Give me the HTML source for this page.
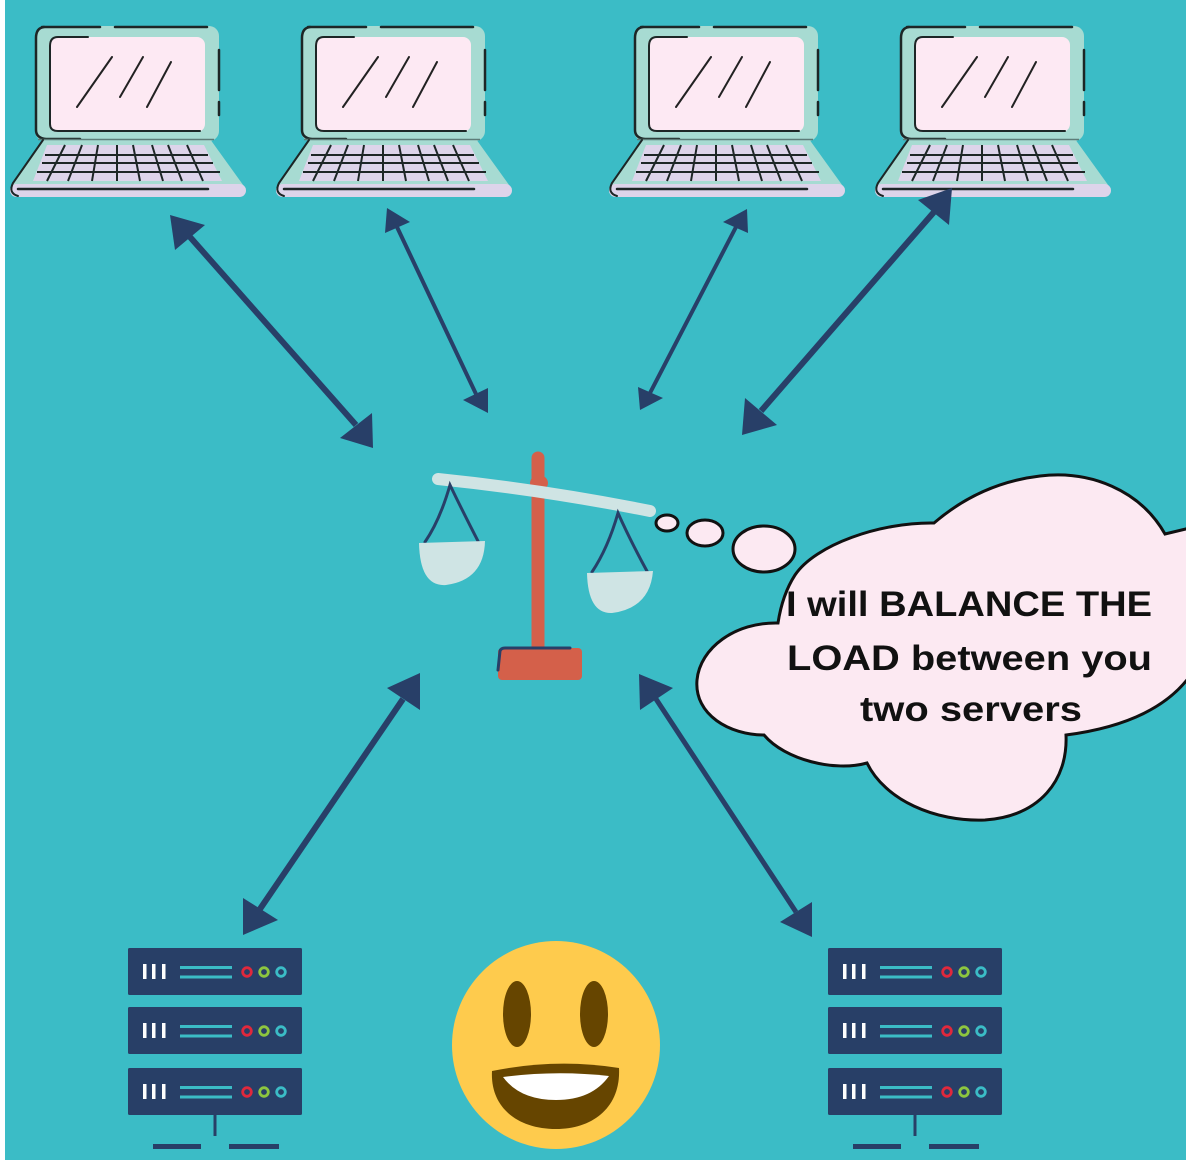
<!DOCTYPE html>
<html>
<head>
<meta charset="utf-8">
<style>
  html,body{margin:0;padding:0;background:#ffffff;}
  body{width:1186px;height:1163px;overflow:hidden;}
  svg{display:block;}
</style>
</head>
<body>
<svg width="1186" height="1163" viewBox="0 0 1186 1163" xmlns="http://www.w3.org/2000/svg">
  <defs>
    <g id="laptop">
      <!-- screen frame -->
      <rect x="35" y="26" width="184" height="115" rx="10" fill="#a7dbd2"/>
      <path d="M42 27 H100 M115 27 H207" stroke="#1d2626" stroke-width="2.5" fill="none" stroke-linecap="round"/>
      <path d="M44 27 Q36 28 36 38 V130 Q36 138 46 139 H80" stroke="#1d2626" stroke-width="2.5" fill="none" stroke-linecap="round"/>
      <path d="M219 50 V90 M219 102 V115" stroke="#1d2626" stroke-width="2.5" fill="none" stroke-linecap="round"/>
      <!-- screen -->
      <rect x="49" y="37" width="156" height="95" rx="8" fill="#fde9f3"/>
      <path d="M88 37 H58 Q50 37 50 46 V124 Q50 131 58 131 H200" stroke="#1d2626" stroke-width="2" fill="none" stroke-linecap="round"/>
      <path d="M77 107 L112 57 M120 97 L143 57 M147 107 L171 62" stroke="#222" stroke-width="2" stroke-linecap="round" fill="none"/>
      <!-- base -->
      <polygon points="43,139 210,139 246,189 10,189" fill="#a7dbd2"/>
      <line x1="38" y1="139.5" x2="214" y2="139.5" stroke="#5d7c78" stroke-width="1.5"/>
      <polygon points="47,145 204,145 222,181 33,181" fill="#ddd4ea"/>
      <path d="M45 155 H208 M42 163 H213 M37 172 H220" stroke="#1d2626" stroke-width="2" fill="none"/>
      <path d="M65 145 L47 181 M82 145 L68 181 M98 145 L92 181 M117 145 L117 181 M133 145 L140 181 M152 145 L163 181 M168 145 L182 181 M187 145 L203 181" stroke="#1d2626" stroke-width="2" fill="none"/>
      <rect x="10" y="184" width="236" height="13" rx="6.5" fill="#ddd4ea"/>
      <path d="M18 189 H208" stroke="#1d2626" stroke-width="2.5" fill="none" stroke-linecap="round"/>
      <path d="M43 140 L13 183 Q8 193 18 196" stroke="#1d2626" stroke-width="2" fill="none" stroke-linecap="round"/>
    </g>

    <g id="srow">
      <rect x="128" y="0" width="174" height="47" rx="1.5" fill="#283f67"/>
      <rect x="143" y="16" width="3.5" height="15" fill="#ffffff"/>
      <rect x="152" y="16" width="3.5" height="15" fill="#ffffff"/>
      <rect x="162" y="16" width="3.5" height="15" fill="#ffffff"/>
      <path d="M180 19.5 H232 M180 29 H232" stroke="#3bbcc6" stroke-width="3" fill="none"/>
      <circle cx="247" cy="24" r="4.3" fill="none" stroke="#e0283c" stroke-width="2.8"/>
      <circle cx="264" cy="24" r="4.3" fill="none" stroke="#8dc63f" stroke-width="2.8"/>
      <circle cx="281" cy="24" r="4.3" fill="none" stroke="#3bbcc6" stroke-width="2.8"/>
    </g>

    <g id="server">
      <use href="#srow" transform="translate(0,948)"/>
      <use href="#srow" transform="translate(0,1007)"/>
      <use href="#srow" transform="translate(0,1068)"/>
      <line x1="215" y1="1115" x2="215" y2="1136" stroke="#283f67" stroke-width="3"/>
      <rect x="153" y="1144" width="48" height="5" fill="#283f67"/>
      <rect x="229" y="1144" width="50" height="5" fill="#283f67"/>
    </g>
  </defs>

  <!-- background -->
  <rect x="0" y="0" width="1186" height="1163" fill="#ffffff"/>
  <rect x="5" y="0" width="1181" height="1160" fill="#3bbcc6"/>

  <!-- laptops -->
  <use href="#laptop"/>
  <use href="#laptop" transform="translate(266,0)"/>
  <use href="#laptop" transform="translate(599,0)"/>
  <use href="#laptop" transform="translate(865,0)"/>

  <!-- arrows -->
  <g fill="#283f68" stroke="#283f68" stroke-linecap="butt">
    <!-- A1 thick -->
    <line x1="190" y1="237" x2="356" y2="425" stroke-width="6"/>
    <polygon points="170,215 205,225 175,250" stroke="none"/>
    <polygon points="373,448 340,438 372,413" stroke="none"/>
    <!-- A2 thin -->
    <line x1="397" y1="227" x2="476" y2="394" stroke-width="4"/>
    <polygon points="387,208 410,222 385,233" stroke="none"/>
    <polygon points="488,413 463,400 488,388" stroke="none"/>
    <!-- A3 thin -->
    <line x1="736" y1="227" x2="650" y2="393" stroke-width="4"/>
    <polygon points="747,209 723,222 748,233" stroke="none"/>
    <polygon points="640,410 638,387 663,398" stroke="none"/>
    <!-- A4 thick -->
    <line x1="934" y1="212" x2="761" y2="411" stroke-width="6"/>
    <polygon points="952,188 918,200 949,225" stroke="none"/>
    <polygon points="742,435 745,398 777,425" stroke="none"/>
    <!-- A5 -->
    <line x1="403" y1="699" x2="260" y2="909" stroke-width="6"/>
    <polygon points="420,673 387,688 420,710" stroke="none"/>
    <polygon points="243,935 243,898 278,920" stroke="none"/>
    <!-- A6 -->
    <line x1="656" y1="699" x2="796" y2="912" stroke-width="5"/>
    <polygon points="639,674 640,710 673,688" stroke="none"/>
    <polygon points="812,937 780,922 812,902" stroke="none"/>
  </g>

  <!-- scale -->
  <g>
    <path d="M538 458 L538 648" stroke="#d4604a" stroke-width="13" stroke-linecap="round" fill="none"/>
    <ellipse cx="539" cy="483" rx="9" ry="8" fill="#d4604a"/>
    <rect x="498" y="648" width="84" height="32" rx="4" fill="#d4604a"/>
    <path d="M498 670 L500 651 Q501 648 505 648 L570 648" stroke="#283f68" stroke-width="3" fill="none" stroke-linecap="round"/>
    <path d="M438 479 Q545 490 650 511" stroke="#cfe4e4" stroke-width="12" stroke-linecap="round" fill="none"/>
    <!-- left pan -->
    <path d="M425 542 Q440 520 450 485 Q462 510 480 545" stroke="#283f68" stroke-width="3" fill="none" stroke-linecap="round"/>
    <path d="M419 543 L485 541 Q484 580 446 585 Q420 587 419 543 Z" fill="#cfe4e4"/>
    <!-- right pan -->
    <path d="M592 572 Q608 548 618 513 Q630 540 648 573" stroke="#283f68" stroke-width="3" fill="none" stroke-linecap="round"/>
    <path d="M587 573 L653 571 Q650 608 612 613 Q588 614 587 573 Z" fill="#cfe4e4"/>
  </g>

  <!-- thought bubbles -->
  <g fill="#fce9f2" stroke="#111111" stroke-width="3">
    <ellipse cx="667" cy="523" rx="11" ry="8"/>
    <ellipse cx="705" cy="533" rx="18" ry="13"/>
    <ellipse cx="764" cy="549" rx="31" ry="23"/>
    <path d="M1190 528 L1165 534 C1140 490 1090 470 1040 476 C990 482 955 505 934 523 C880 522 815 545 795 575 C784 592 780 610 778 623 C735 622 700 648 697 680 C694 715 730 735 764 735 C785 760 835 772 867 763 C885 800 935 822 985 820 C1040 816 1068 780 1066 735 C1120 728 1165 710 1190 676 Z"/>
  </g>
  <g font-family="'Liberation Sans', Arial, sans-serif" font-weight="bold" font-size="35" fill="#111111">
    <text x="786" y="616" textLength="366" lengthAdjust="spacingAndGlyphs">I will BALANCE THE</text>
    <text x="787" y="670" textLength="365" lengthAdjust="spacingAndGlyphs">LOAD between you</text>
    <text x="860" y="721" textLength="222" lengthAdjust="spacingAndGlyphs">two servers</text>
  </g>

  <!-- servers -->
  <use href="#server"/>
  <use href="#server" transform="translate(700,0)"/>

  <!-- smiley -->
  <g>
    <circle cx="556" cy="1045" r="104" fill="#fecb4d"/>
    <ellipse cx="517" cy="1014" rx="14" ry="33" fill="#664500"/>
    <ellipse cx="594" cy="1014" rx="14" ry="33" fill="#664500"/>
    <path d="M492 1071 Q556 1058 619 1068 C621 1108 592 1129 556 1129 C518 1129 490 1108 492 1071 Z" fill="#664500"/>
    <path d="M503 1077 Q556 1070 609 1076 Q592 1100 556 1100 Q520 1100 503 1077 Z" fill="#ffffff"/>
  </g>
</svg>
</body>
</html>
